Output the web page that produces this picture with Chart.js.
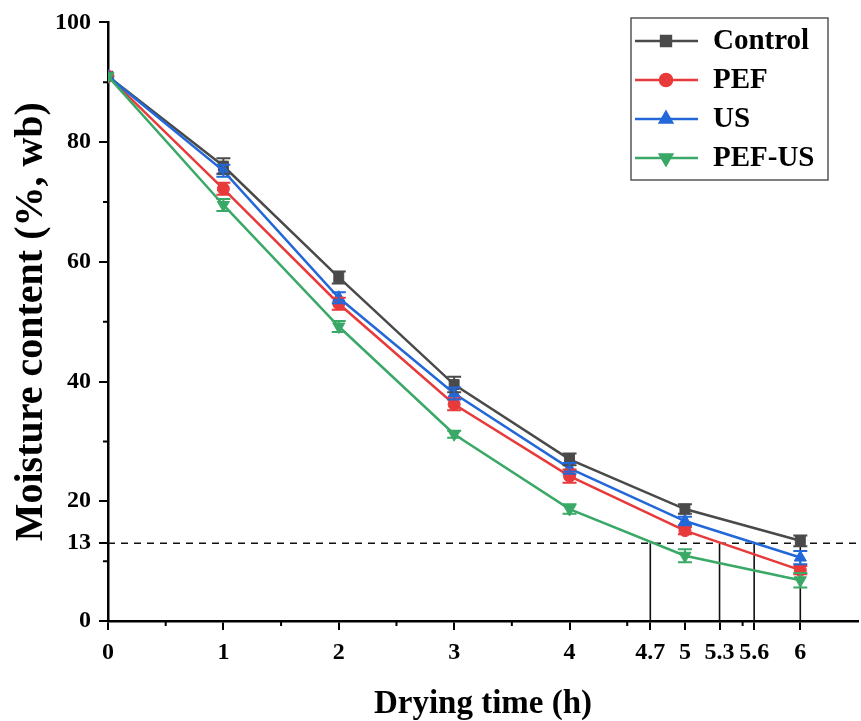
<!DOCTYPE html>
<html>
<head>
<meta charset="utf-8">
<script src="https://cdn.jsdelivr.net/npm/chart.js"></script>
<style>
  html, body { margin: 0; padding: 0; background: #fff; overflow: hidden; width: 861px; height: 721px; }
  /* a few px wider than the window so the plot reaches the right edge like the reference */
  #wrap { width: 866px; height: 721px; position: relative; }
  #dryChart { display: block; }
</style>
</head>
<body>
<div id="wrap"><canvas id="dryChart"></canvas></div>
<script>
// drying curves
const timeH = [0, 1, 2, 3, 4, 5, 6];
const control = [91.0, 76.0, 57.4, 39.5, 27.0, 18.7, 13.4];
const pef     = [91.0, 72.2, 53.0, 36.2, 24.2, 15.1, 8.5];
const us      = [91.0, 75.2, 54.0, 38.0, 25.5, 16.7, 10.6];
const pefUs   = [91.0, 69.5, 49.2, 31.2, 18.7, 10.9, 6.8];

const controlErr = [0, 1.3, 1.0, 1.3, 1.0, 0.8, 0.9];
const pefErr     = [0, 1.0, 1.0, 1.0, 1.1, 0.6, 0.7];
const usErr      = [0, 1.0, 0.9, 1.0, 0.9, 0.7, 1.1];
const pefUsErr   = [0, 1.0, 0.9, 0.6, 0.8, 1.1, 1.2];

const seriesNames = ['Control', 'PEF', 'US', 'PEF-US'];

// 13 % target line and the times each series reaches it
const targetMoisture = 13;
const crossTimes = [4.7, 5.3, 5.6, 6];

const xTickValues = [0, 1, 2, 3, 4, 4.7, 5, 5.3, 5.6, 6];
const xMinorTicks = [0.5, 1.5, 2.5, 3.5, 4.5, 5.5];
const yTickValues = [0, 13, 20, 40, 60, 80, 100];
const yMinorTicks = [10, 30, 50, 70, 90];

const FONT = '"Liberation Serif", "Times New Roman", serif';
const COLORS = ['#4a4a4a', '#e83a3a', '#2368d8', '#3aa866'];
const STYLES = [
  { pointStyle: 'rect', radius: 7, rotation: 0 },
  { pointStyle: 'circle', radius: 6, rotation: 0 },
  { pointStyle: 'triangle', radius: 7, rotation: 0 },
  { pointStyle: 'triangle', radius: 7, rotation: 180 }
];

const values = [control, pef, us, pefUs];
const errors = [controlErr, pefErr, usErr, pefUsErr];

const mainSets = values.map((vals, i) => ({
  label: seriesNames[i],
  data: timeH.map((t, j) => ({ x: t, y: vals[j] })),
  borderColor: COLORS[i],
  backgroundColor: COLORS[i],
  borderWidth: 2.5,
  pointStyle: STYLES[i].pointStyle,
  pointRadius: STYLES[i].radius,
  pointRotation: STYLES[i].rotation,
  pointBorderWidth: 1,
  tension: 0,
  order: 4 - i,
  errors: errors[i]
}));

const refSets = [
  {
    label: 'target',
    data: [{ x: 0, y: targetMoisture }, { x: 6.5, y: targetMoisture }],
    borderColor: '#111',
    borderWidth: 1.6,
    borderDash: [7, 6],
    pointRadius: 0,
    order: 20
  },
  ...crossTimes.map(t => ({
    label: 'cross',
    data: [{ x: t, y: 0 }, { x: t, y: targetMoisture }],
    borderColor: '#111',
    borderWidth: 1.6,
    pointRadius: 0,
    order: 20
  }))
];

const errorBars = {
  id: 'errorBars',
  afterDatasetsDraw(chart) {
    const ctx = chart.ctx;
    const yScale = chart.scales.y;
    chart.data.datasets.forEach((ds, di) => {
      if (!ds.errors) return;
      const meta = chart.getDatasetMeta(di);
      ctx.save();
      ctx.strokeStyle = ds.borderColor;
      ctx.lineWidth = 2;
      meta.data.forEach((pt, j) => {
        const e = ds.errors[j];
        if (!e) return;
        const v = ds.data[j].y;
        const top = yScale.getPixelForValue(v + e);
        const bot = yScale.getPixelForValue(v - e);
        ctx.beginPath();
        ctx.moveTo(pt.x, top); ctx.lineTo(pt.x, bot);
        ctx.moveTo(pt.x - 7, top); ctx.lineTo(pt.x + 7, top);
        ctx.moveTo(pt.x - 7, bot); ctx.lineTo(pt.x + 7, bot);
        ctx.stroke();
      });
      ctx.restore();
    });
  }
};

const minorTicks = {
  id: 'minorTicks',
  afterDraw(chart) {
    const ctx = chart.ctx;
    const { x, y } = chart.scales;
    const area = chart.chartArea;
    ctx.save();
    ctx.strokeStyle = '#000';
    ctx.lineWidth = 2;
    ctx.beginPath();
    xMinorTicks.forEach(v => {
      const px = x.getPixelForValue(v);
      ctx.moveTo(px, area.bottom); ctx.lineTo(px, area.bottom + 5);
    });
    yMinorTicks.forEach(v => {
      const py = y.getPixelForValue(v);
      ctx.moveTo(area.left, py); ctx.lineTo(area.left - 5, py);
    });
    ctx.stroke();
    ctx.restore();
  }
};

const boxLegend = {
  id: 'boxLegend',
  afterDraw(chart) {
    const ctx = chart.ctx;
    ctx.save();
    ctx.strokeStyle = '#555';
    ctx.lineWidth = 1.5;
    ctx.strokeRect(631, 18, 197, 162);
    ctx.font = 'bold 29px ' + FONT;
    ctx.textBaseline = 'middle';
    ctx.fillStyle = '#000';
    seriesNames.forEach((name, i) => {
      const yy = 41 + i * 39;
      ctx.strokeStyle = COLORS[i];
      ctx.lineWidth = 2.5;
      ctx.beginPath();
      ctx.moveTo(635, yy); ctx.lineTo(698, yy);
      ctx.stroke();
      ctx.fillStyle = COLORS[i];
      Chart.helpers.drawPoint(ctx, {
        pointStyle: STYLES[i].pointStyle,
        radius: STYLES[i].radius,
        rotation: STYLES[i].rotation,
        borderWidth: 1
      }, 666, yy);
      ctx.fillStyle = '#000';
      ctx.fillText(name, 713, yy + 1);
    });
    ctx.restore();
  }
};

new Chart(document.getElementById('dryChart'), {
  type: 'line',
  data: { datasets: [...mainSets, ...refSets] },
  plugins: [errorBars, minorTicks, boxLegend],
  options: {
    responsive: true,
    maintainAspectRatio: false,
    animation: false,
    layout: { padding: { left: 0, right: 0, top: 18, bottom: 0 } },
    plugins: { legend: { display: false }, tooltip: { enabled: false } },
    scales: {
      x: {
        type: 'linear',
        min: 0,
        max: 6.5,
        afterBuildTicks: (scale) => { scale.ticks = xTickValues.map(v => ({ value: v })); },
        afterFit: (scale) => { scale.height = 100; scale.paddingLeft = 0; scale.paddingRight = 0; },
        border: { display: true, color: '#000', width: 2.5 },
        grid: { drawOnChartArea: false, drawTicks: true, tickLength: 9, color: '#000', lineWidth: 2 },
        ticks: {
          autoSkip: false, maxRotation: 0, padding: 8, color: '#000',
          font: { family: FONT, size: 24, weight: 'bold' },
          callback: (v) => String(v)
        },
        title: {
          display: true, text: 'Drying time (h)', color: '#000',
          font: { family: FONT, size: 33, weight: 'bold', lineHeight: 1 },
          padding: { top: 0, bottom: 0 }
        }
      },
      y: {
        min: 0,
        max: 100,
        afterBuildTicks: (scale) => { scale.ticks = yTickValues.map(v => ({ value: v })); },
        afterFit: (scale) => { scale.width = 108; },
        border: { display: true, color: '#000', width: 2.5 },
        grid: { drawOnChartArea: false, drawTicks: true, tickLength: 9, color: '#000', lineWidth: 2 },
        ticks: {
          autoSkip: false, padding: 8, color: '#000',
          font: { family: FONT, size: 24, weight: 'bold' },
          callback: (v) => String(v)
        },
        title: {
          display: true, text: 'Moisture content (%, wb)', color: '#000',
          font: { family: FONT, size: 40, weight: 'bold', lineHeight: 1 },
          padding: { top: 12, bottom: 0 }
        }
      }
    }
  }
});
</script>
</body>
</html>
